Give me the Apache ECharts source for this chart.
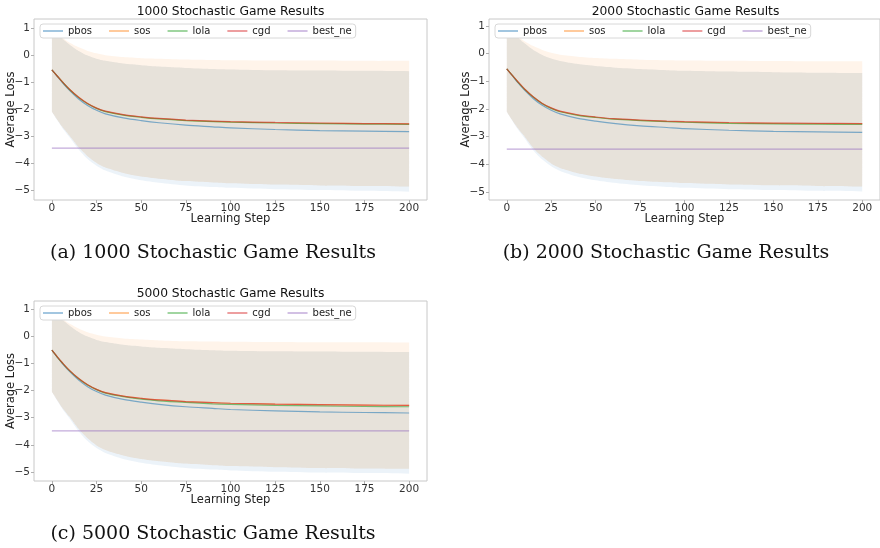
<!DOCTYPE html>
<html>
<head>
<meta charset="utf-8">
<script src="https://cdn.jsdelivr.net/npm/echarts@6/dist/echarts.min.js"></script>
<style>
html,body{margin:0;padding:0;background:#fff;}
#chart{width:880px;height:548px;}
</style>
</head>
<body>
<div id="chart"></div>
<script>
// Shared learning-step sample positions
const steps = [0,3,6,10,15,20,25,30,40,50,60,75,90,100,125,150,175,200];
const bestSteps = [0,200];
const xTicks = [0,25,50,75,100,125,150,175,200];
const yTicks = [-5,-4,-3,-2,-1,0,1];
const seriesNames = ['pbos','sos','lola','cgd','best_ne'];
const panelTitles = ['1000 Stochastic Game Results','2000 Stochastic Game Results','5000 Stochastic Game Results'];
const captions = ['(a) 1000 Stochastic Game Results','(b) 2000 Stochastic Game Results','(c) 5000 Stochastic Game Results'];

// Panel (a) 1000
const a_pbos = [-0.55,-0.79,-1.03,-1.32,-1.63,-1.87,-2.05,-2.18,-2.33,-2.43,-2.51,-2.6,-2.66,-2.7,-2.76,-2.8,-2.82,-2.84];
const a_sos  = [-0.55,-0.78,-1.0,-1.28,-1.57,-1.8,-1.97,-2.09,-2.22,-2.3,-2.36,-2.42,-2.46,-2.48,-2.51,-2.53,-2.54,-2.55];
const a_lola = [-0.55,-0.78,-1.01,-1.29,-1.58,-1.81,-1.98,-2.1,-2.23,-2.31,-2.37,-2.43,-2.47,-2.49,-2.52,-2.54,-2.56,-2.57];
const a_cgd  = [-0.55,-0.78,-1.01,-1.28,-1.57,-1.8,-1.97,-2.08,-2.21,-2.29,-2.35,-2.41,-2.45,-2.47,-2.5,-2.52,-2.54,-2.55];
const a_best = [-3.45,-3.45];
const a_hiSos  = [1.0,0.82,0.64,0.45,0.28,0.15,0.06,-0.01,-0.08,-0.12,-0.14,-0.17,-0.19,-0.2,-0.21,-0.21,-0.22,-0.22];
const a_hiRest = [1.0,0.8,0.6,0.38,0.15,-0.02,-0.14,-0.22,-0.32,-0.38,-0.43,-0.48,-0.52,-0.54,-0.57,-0.58,-0.59,-0.6];
const a_loRest = [-2.1,-2.4,-2.68,-3.0,-3.42,-3.75,-4.0,-4.17,-4.37,-4.5,-4.58,-4.67,-4.72,-4.75,-4.8,-4.83,-4.85,-4.87];
const a_loPbos = [-2.1,-2.42,-2.72,-3.06,-3.5,-3.85,-4.1,-4.28,-4.5,-4.64,-4.73,-4.83,-4.89,-4.92,-4.97,-5.0,-5.03,-5.06];

// Panel (b) 2000
const b_pbos = [-0.55,-0.79,-1.03,-1.32,-1.63,-1.87,-2.05,-2.18,-2.34,-2.44,-2.52,-2.61,-2.67,-2.71,-2.77,-2.81,-2.83,-2.85];
const b_sos  = [-0.55,-0.78,-1.0,-1.28,-1.57,-1.8,-1.97,-2.09,-2.22,-2.3,-2.36,-2.41,-2.45,-2.47,-2.5,-2.52,-2.53,-2.53];
const b_lola = [-0.55,-0.78,-1.01,-1.29,-1.58,-1.81,-1.98,-2.1,-2.23,-2.31,-2.37,-2.42,-2.46,-2.48,-2.52,-2.54,-2.55,-2.56];
const b_cgd  = [-0.55,-0.78,-1.0,-1.28,-1.57,-1.8,-1.96,-2.08,-2.21,-2.29,-2.35,-2.4,-2.44,-2.46,-2.49,-2.51,-2.52,-2.53];
const b_best = [-3.45,-3.45];
const b_hiSos  = [1.0,0.82,0.64,0.45,0.27,0.13,0.03,-0.04,-0.11,-0.16,-0.19,-0.22,-0.24,-0.25,-0.26,-0.27,-0.28,-0.28];
const b_hiRest = [1.0,0.8,0.6,0.37,0.13,-0.05,-0.18,-0.27,-0.38,-0.45,-0.5,-0.56,-0.6,-0.62,-0.65,-0.67,-0.69,-0.7];
const b_loRest = [-2.1,-2.4,-2.68,-3.0,-3.42,-3.73,-3.97,-4.13,-4.32,-4.44,-4.52,-4.6,-4.65,-4.68,-4.73,-4.76,-4.78,-4.8];
const b_loPbos = [-2.1,-2.42,-2.72,-3.06,-3.5,-3.83,-4.07,-4.24,-4.45,-4.58,-4.67,-4.76,-4.82,-4.85,-4.9,-4.93,-4.96,-4.98];

// Panel (c) 5000
const c_pbos = [-0.52,-0.77,-1.02,-1.31,-1.62,-1.86,-2.04,-2.17,-2.33,-2.43,-2.51,-2.6,-2.66,-2.7,-2.75,-2.79,-2.81,-2.83];
const c_sos  = [-0.52,-0.76,-0.99,-1.27,-1.56,-1.79,-1.96,-2.08,-2.21,-2.29,-2.35,-2.41,-2.45,-2.47,-2.5,-2.52,-2.54,-2.55];
const c_lola = [-0.52,-0.77,-1.0,-1.28,-1.57,-1.8,-1.97,-2.1,-2.23,-2.32,-2.38,-2.44,-2.49,-2.51,-2.55,-2.57,-2.59,-2.6];
const c_cgd  = [-0.52,-0.76,-0.99,-1.27,-1.56,-1.79,-1.96,-2.08,-2.21,-2.29,-2.35,-2.41,-2.45,-2.47,-2.5,-2.52,-2.54,-2.55];
const c_best = [-3.49,-3.49];
const c_hiSos  = [1.0,0.82,0.64,0.45,0.28,0.14,0.05,-0.02,-0.09,-0.13,-0.16,-0.19,-0.2,-0.21,-0.22,-0.23,-0.23,-0.24];
const c_hiRest = [1.0,0.8,0.6,0.38,0.15,-0.02,-0.14,-0.22,-0.32,-0.38,-0.43,-0.48,-0.52,-0.54,-0.56,-0.57,-0.58,-0.59];
const c_loRest = [-2.05,-2.36,-2.65,-2.98,-3.42,-3.76,-4.02,-4.19,-4.39,-4.52,-4.6,-4.69,-4.75,-4.78,-4.82,-4.85,-4.87,-4.88];
const c_loPbos = [-2.05,-2.38,-2.69,-3.04,-3.5,-3.86,-4.12,-4.3,-4.52,-4.66,-4.75,-4.85,-4.91,-4.94,-4.99,-5.02,-5.04,-5.06];

const panels = [
  {pbos:a_pbos, sos:a_sos, lola:a_lola, cgd:a_cgd, best:a_best, hiSos:a_hiSos, hiRest:a_hiRest, loRest:a_loRest, loPbos:a_loPbos},
  {pbos:b_pbos, sos:b_sos, lola:b_lola, cgd:b_cgd, best:b_best, hiSos:b_hiSos, hiRest:b_hiRest, loRest:b_loRest, loPbos:b_loPbos},
  {pbos:c_pbos, sos:c_sos, lola:c_lola, cgd:c_cgd, best:c_best, hiSos:c_hiSos, hiRest:c_hiRest, loRest:c_loRest, loPbos:c_loPbos}
];

const lineColors = {
  pbos:'rgba(31,119,180,0.55)', sos:'rgba(255,127,14,0.55)', lola:'rgba(44,160,44,0.6)',
  cgd:'rgba(214,39,40,0.6)', best_ne:'rgba(148,103,189,0.55)'
};
const bandColors = {
  pbos:'rgba(31,119,180,0.085)', sos:'rgba(255,127,14,0.085)', lola:'rgba(44,160,44,0.025)', cgd:'rgba(214,39,40,0.025)'
};

const gridBoxes = [
  {left:34, top:19, width:393, height:181},
  {left:489, top:19, width:393, height:181},
  {left:34, top:301, width:393, height:180}
];
const yRanges = [[-5.37,1.33],[-5.29,1.25],[-5.33,1.29]];

const FONT = 'DejaVu Sans';
const minus = v => String(v).replace('-', '\u2212');

const grid = [], xAxis = [], yAxis = [], series = [], legend = [], graphic = [];

panels.forEach((p, i) => {
  const g = gridBoxes[i];
  grid.push({left:g.left, top:g.top, width:g.width, height:g.height, show:true, borderColor:'#c8c8c8', borderWidth:1, backgroundColor:'#fff'});
  xAxis.push({
    type:'value', gridIndex:i, min:-10, max:210,
    name:'Learning Step', nameLocation:'middle', nameGap:13, nameMoveOverlap:false,
    nameTextStyle:{fontFamily:FONT, fontSize:11.5, color:'#222'},
    axisLine:{show:false, onZero:false}, splitLine:{show:false},
    axisTick:{show:true, length:3, lineStyle:{color:'#b0b0b0'}, customValues:xTicks},
    axisLabel:{fontFamily:FONT, fontSize:10.5, color:'#333', margin:3, customValues:xTicks, formatter:minus}
  });
  yAxis.push({
    type:'value', gridIndex:i, min:yRanges[i][0], max:yRanges[i][1],
    name:'Average Loss', nameLocation:'middle', nameGap:17, nameRotate:90, nameMoveOverlap:false,
    nameTextStyle:{fontFamily:FONT, fontSize:11.5, color:'#222'},
    axisLine:{show:false, onZero:false}, splitLine:{show:false},
    axisTick:{show:true, length:3, lineStyle:{color:'#b0b0b0'}, customValues:yTicks},
    axisLabel:{fontFamily:FONT, fontSize:10.5, color:'#333', margin:4, customValues:yTicks, formatter:minus}
  });

  const bands = [
    ['pbos', p.loPbos, p.hiRest],
    ['sos', p.loRest, p.hiSos],
    ['lola', p.loRest, p.hiRest],
    ['cgd', p.loRest, p.hiRest]
  ];
  bands.forEach(([nm, lo, hi]) => {
    series.push({
      type:'custom', name:nm + '_band', xAxisIndex:i, yAxisIndex:i, silent:true, z:1,
      data:steps.map((x,k)=>[x, lo[k], hi[k]]),
      encode:{x:0, y:[1,2]},
      renderItem:(params, api) => {
        if (params.dataIndex !== 0) return null;
        const top = steps.map((x,k)=>api.coord([x, hi[k]]));
        const bot = steps.map((x,k)=>api.coord([x, lo[k]])).reverse();
        // repeat the four corner vertices so the smoothing keeps sharp corners
        const pts = [top[0]].concat(top, [top[top.length-1], bot[0]], bot, [bot[bot.length-1]]);
        const xs = pts.map(q=>q[0]), ys = pts.map(q=>q[1]);
        const box = [[Math.min(...xs), Math.min(...ys)], [Math.max(...xs), Math.max(...ys)]];
        return {type:'polygon', shape:{points:pts, smooth:0.25, smoothConstraint:box}, style:{fill:bandColors[nm]}};
      }
    });
  });

  ['pbos','sos','lola','cgd'].forEach(nm => {
    series.push({
      type:'line', name:nm, xAxisIndex:i, yAxisIndex:i,
      data:steps.map((x,k)=>[x, p[nm][k]]), symbol:'none', smooth:0.3,
      color:lineColors[nm], lineStyle:{width:1.2, color:lineColors[nm]}, z:3
    });
  });
  series.push({
    type:'line', name:'best_ne', xAxisIndex:i, yAxisIndex:i,
    data:bestSteps.map((x,k)=>[x, p.best[k]]), symbol:'none',
    color:lineColors.best_ne, lineStyle:{width:1.2, color:lineColors.best_ne}, z:3
  });

  legend.push({
    left:g.left + 6, top:g.top + 5, orient:'horizontal',
    data:seriesNames, icon:'rect', itemWidth:20, itemHeight:1.5, itemGap:17,
    textStyle:{fontFamily:FONT, fontSize:10, color:'#222'},
    backgroundColor:'#fff', borderColor:'#d8d8d8', borderWidth:1, borderRadius:3,
    padding:[2,4,2,3], selectedMode:false, z:10
  });

  graphic.push({
    type:'text', x:g.left + g.width/2, y:g.top - 7,
    style:{text:panelTitles[i], font:'12.3px "DejaVu Sans"', fill:'#111', textAlign:'center', textVerticalAlign:'middle'}
  });
});

const capPos = [[213,253],[666,253],[213,534]];
captions.forEach((t, i) => {
  graphic.push({
    type:'text', x:capPos[i][0], y:capPos[i][1],
    style:{text:t, font:'19px "DejaVu Serif"', fill:'#111', textAlign:'center', textVerticalAlign:'middle'}
  });
});

const chart = echarts.init(document.getElementById('chart'), null, {renderer:'canvas'});
chart.setOption({
  animation:false,
  backgroundColor:'#fff',
  grid, xAxis, yAxis, series, legend, graphic
});
</script>
</body>
</html>
